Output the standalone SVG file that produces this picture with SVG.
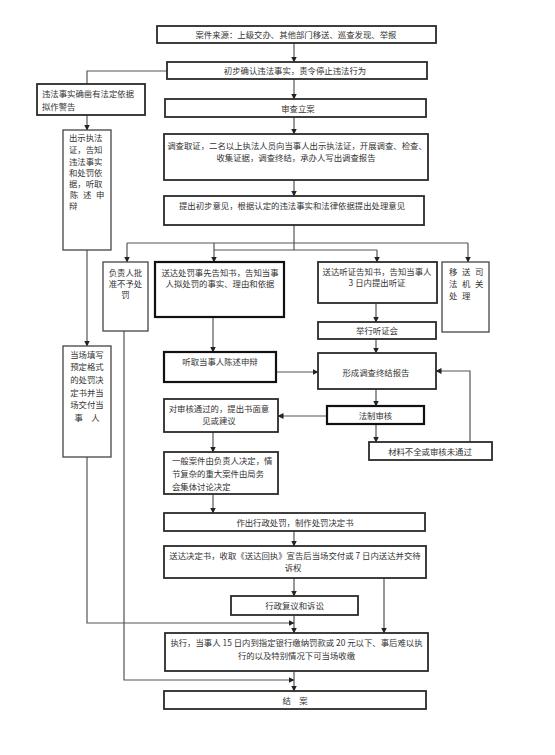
<svg xmlns="http://www.w3.org/2000/svg" width="555" height="755" viewBox="0 0 555 755">
<defs>
<marker id="ah" markerUnits="userSpaceOnUse" markerWidth="6" markerHeight="6" refX="5.5" refY="3" orient="auto">
<path d="M0,0 L6,3 L0,6 z" fill="#222"/>
</marker>
<style>
.b{fill:#fff;stroke:#2a2a2a;stroke-width:1.8}
.bk{fill:#fff;stroke:#111;stroke-width:2.2}
.bt{fill:#fff;stroke:#444;stroke-width:1.3}
.t{font-family:"Noto Sans CJK SC","Noto Sans",sans-serif;font-size:8.4px;fill:#333}
.c{text-anchor:middle}
.ln{fill:none;stroke:#555;stroke-width:1.2}
.ar{fill:none;stroke:#555;stroke-width:1.2;marker-end:url(#ah)}
</style>
</defs>
<rect width="555" height="755" fill="#fff"/>

<g id="connectors">
<path class="ar" d="M294,43 V62"/>
<path class="ar" d="M294,79 V99"/>
<path class="ln" d="M167,71 H87 V84"/>
<path class="ar" d="M87,115 V130"/>
<path class="ar" d="M294,117 V134"/>
<path class="ar" d="M294,180 V196"/>
<path class="ln" d="M294,225 V250"/>
<path class="ln" d="M127,243 H468"/>
<path class="ar" d="M127,243 V262"/>
<path class="ar" d="M468,243 V262"/>
<path class="ln" d="M214,250 H377"/>
<path class="ar" d="M214,243 V262"/>
<path class="ar" d="M377,250 V262"/>
<path class="ar" d="M87,250 V346"/>
<path class="ar" d="M213,317 V352"/>
<path class="ar" d="M376,303 V322"/>
<path class="ar" d="M376,339 V353"/>
<path class="ar" d="M276,372 H318"/>
<path class="ar" d="M376,389 V406"/>
<path class="ar" d="M327,416 H278"/>
<path class="ar" d="M376,424 V442"/>
<path class="ar" d="M470,442 V371 H436"/>
<path class="ar" d="M213,432 V452"/>
<path class="ar" d="M213,494 V513"/>
<path class="ar" d="M294,531 V546"/>
<path class="ar" d="M294,578 V596"/>
<path class="ar" d="M384,578 V633"/>
<path class="ar" d="M294,615 V633"/>
<path class="ar" d="M87,457 V623 H294"/>
<path class="ar" d="M124,331 V680 H294"/>
<path class="ar" d="M294,671 V691"/>
</g>

<g id="n1"><rect class="b" x="157" y="26" width="279" height="17"/>
<text class="t c" x="296" y="37.5">案件来源：上级交办、其他部门移送、巡查发现、举报</text></g>

<g id="n2"><rect class="b" x="167" y="62" width="260" height="17"/>
<text class="t c" x="295" y="74">初步确认违法事实，责令停止违法行为</text></g>

<g id="n3"><rect class="b" x="37" y="84" width="108" height="31"/>
<text class="t" x="42" y="97">违法事实确凿有法定依据</text>
<text class="t" x="42" y="110">拟作警告</text></g>

<g id="n4"><rect class="b" x="165" y="99" width="261" height="18"/>
<text class="t c" x="298" y="111.5">审查立案</text></g>

<g id="n5"><rect class="bt" x="63" y="130" width="48" height="120"/>
<text class="t" x="69" y="141">出示执法</text>
<text class="t" x="69" y="153">证，告知</text>
<text class="t" x="69" y="165">违法事实</text>
<text class="t" x="69" y="176">和处罚依</text>
<text class="t" x="69" y="187">据，听取</text>
<text class="t" x="70 83 96" y="198">陈述申</text>
<text class="t" x="69" y="209">辩</text></g>

<g id="n6"><rect class="b" x="164" y="134" width="264" height="46"/>
<text class="t c" x="297" y="149">调查取证，二名以上执法人员向当事人出示执法证，开展调查、检查、</text>
<text class="t c" x="296" y="161">收集证据，调查终结，承办人写出调查报告</text></g>

<g id="n7"><rect class="b" x="164" y="196" width="260" height="29"/>
<text class="t c" x="292" y="209">提出初步意见，根据认定的违法事实和法律依据提出处理意见</text></g>

<g id="n8"><rect class="bt" x="103" y="262" width="45" height="69"/>
<text class="t c" x="125.5" y="276">负责人批</text>
<text class="t c" x="125.5" y="287">准不予处</text>
<text class="t c" x="125.5" y="298">罚</text></g>

<g id="n9"><rect class="bk" x="155" y="262" width="129" height="55"/>
<text class="t c" x="220" y="276">送达处罚事先告知书，告知当事</text>
<text class="t c" x="220" y="287">人拟处罚的事实、理由和依据</text></g>

<g id="n10"><rect class="b" x="318" y="262" width="119" height="41"/>
<text class="t c" x="377" y="275">送达听证告知书，告知当事人</text>
<text class="t c" x="377" y="286">3 日内提出听证</text></g>

<g id="n11"><rect class="bt" x="442" y="262" width="47" height="70"/>
<text class="t" x="449 462 475" y="275">移送司</text>
<text class="t" x="449 462 475" y="287">法机关</text>
<text class="t" x="449 462" y="299">处理</text></g>

<g id="n12"><rect class="b" x="318" y="322" width="118" height="17"/>
<text class="t c" x="377" y="334">举行听证会</text></g>

<g id="n13"><rect class="bt" x="63" y="346" width="48" height="111"/>
<text class="t c" x="87" y="358">当场填写</text>
<text class="t c" x="87" y="370">预定格式</text>
<text class="t c" x="87" y="383">的处罚决</text>
<text class="t c" x="87" y="396">定书并当</text>
<text class="t c" x="87" y="408">场交付当</text>
<text class="t c" x="87" y="421">事　人</text></g>

<g id="n14"><rect class="bk" x="164" y="352" width="112" height="30"/>
<text class="t c" x="220" y="365">听取当事人陈述申辩</text></g>

<g id="n15"><rect class="b" x="318" y="353" width="118" height="36"/>
<text class="t c" x="376" y="376">形成调查终结报告</text></g>

<g id="n16"><rect class="b" x="164" y="399" width="114" height="33"/>
<text class="t c" x="219" y="412">对审核通过的，提出书面意</text>
<text class="t c" x="219" y="424">见或建议</text></g>

<g id="n17"><rect class="bk" x="327" y="406" width="97" height="18"/>
<text class="t c" x="375.5" y="418.5">法制审核</text></g>

<g id="n18"><rect class="b" x="369" y="442" width="123" height="18"/>
<text class="t c" x="430" y="454.5">材料不全或审核未通过</text></g>

<g id="n19"><rect class="b" x="164" y="452" width="114" height="42"/>
<text class="t" x="172" y="464">一般案件由负责人决定，情</text>
<text class="t" x="172" y="477">节复杂的重大案件由局务</text>
<text class="t" x="172" y="490">会集体讨论决定</text></g>

<g id="n20"><rect class="b" x="164" y="513" width="261" height="18"/>
<text class="t c" x="295" y="525.5">作出行政处罚，制作处罚决定书</text></g>

<g id="n21"><rect class="b" x="164" y="546" width="262" height="32"/>
<text class="t c" x="295" y="559">送达决定书，收取《送达回执》宣告后当场交付或 7 日内送达并交待</text>
<text class="t c" x="293" y="571">诉权</text></g>

<g id="n22"><rect class="b" x="231" y="596" width="127" height="19"/>
<text class="t c" x="294.5" y="608.5">行政复议和诉讼</text></g>

<g id="n23"><rect class="b" x="165" y="633" width="263" height="38"/>
<text class="t c" x="296.5" y="646">执行，当事人 15 日内到指定银行缴纳罚款或 20 元以下、事后难以执</text>
<text class="t c" x="296.5" y="659">行的以及特别情况下可当场收缴</text></g>

<g id="n24"><rect class="b" x="164" y="691" width="262" height="18"/>
<text class="t c" x="295" y="703.5">结　案</text></g>
</svg>
